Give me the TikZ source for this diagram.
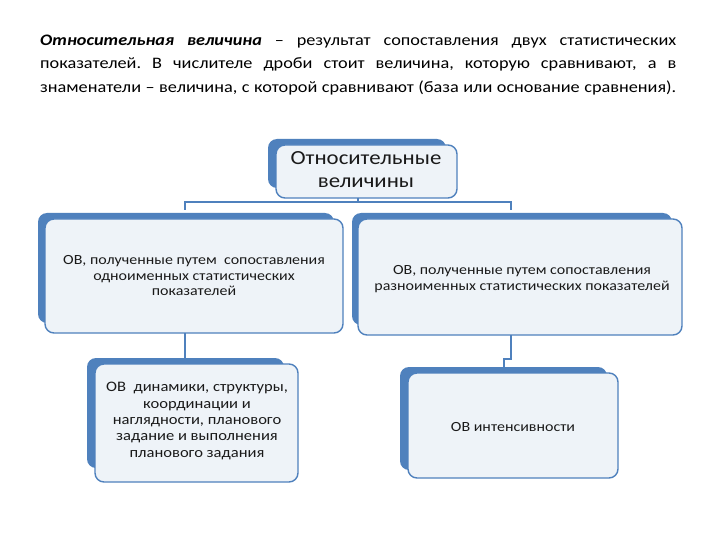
\documentclass[tikz,border=0pt]{standalone}
\usepackage{fontspec}
\setmainfont{Carlito}
\definecolor{obBlue}{HTML}{4F81BD}
\definecolor{obFill}{HTML}{EEF3F8}
\definecolor{obText}{HTML}{1A1A1A}
\tikzset{
  backbox/.style={fill=obBlue, rounded corners=9pt},
  frontbox/.style={draw=obBlue, line width=1.4pt, fill=obFill, rounded corners=9pt},
  conn/.style={draw=obBlue, line width=1.4pt},
  boxtext/.style={align=center, text=obText, inner sep=0pt, xscale=1.14, transform shape},
}
\begin{document}
\begin{tikzpicture}[x=1pt,y=-1pt]
\useasboundingbox (0,0) rectangle (720,540);
\fill[white] (0,0) rectangle (720,540);
% paragraph
\node[anchor=north west, inner sep=0pt] (para) at (40,35) {\scalebox{1.14}[1]{\parbox{557.9pt}{\fontsize{16}{23.3}\selectfont\frenchspacing\parfillskip=0pt\noindent
\textbf{\textit{Относительная величина}} – результат сопоставления двух статистических\linebreak
показателей. В числителе дроби стоит величина, которую сравнивают, а в\linebreak
знаменатели – величина, с которой сравнивают (база или основание сравнения).}}};

% top box
\fill[backbox] (268,139) rectangle (446,188);
\path[frontbox] (276,145) rectangle (457,198);
\node[boxtext, font=\fontsize{20}{23}\selectfont] (top) at (366,170) {Относительные\\величины};
\coordinate (topb) at (358,198);

% mid left
\fill[backbox] (38,213) rectangle (334,323);
\path[frontbox] (45,219) rectangle (343,333);
\node[boxtext, font=\fontsize{14}{15.5}\selectfont] (ml) at (194,276) {ОВ, полученные путем \ сопоставления\\одноименных статистических\\показателей};
\coordinate (mlt) at (185,210);
\coordinate (mlb) at (185,333);

% mid right
\fill[backbox] (352,213) rectangle (672,325);
\path[frontbox] (358,219) rectangle (682,335);
\node[boxtext, font=\fontsize{14}{15.5}\selectfont] (mr) at (522,279) {ОВ, полученные путем сопоставления\\разноименных статистических показателей};
\coordinate (mrt) at (511,210);
\coordinate (mrb) at (511,335);

% lower left
\fill[backbox] (87,358) rectangle (284,468);
\path[frontbox] (95,364) rectangle (298,482);
\node[boxtext, font=\fontsize{14.5}{16.3}\selectfont] (ll) at (197,421) {ОВ \ динамики, структуры,\\координации и\\наглядности, планового\\задание и выполнения\\планового задания};
\coordinate (llt) at (185,358);

% lower right
\fill[backbox] (400,367) rectangle (607,470);
\path[frontbox] (408,373) rectangle (618,478);
\node[boxtext, font=\fontsize{14}{16}\selectfont] (lr) at (513,427) {ОВ интенсивности};
\coordinate (lrt) at (504,367);

% connectors
\draw[conn] (topb) -- (358,202) -| (mlt);
\draw[conn] (358,202) -| (mrt);
\draw[conn] (mlb) -- (llt);
\draw[conn] (mrb) -- (511,359) -| (lrt);
\end{tikzpicture}
\end{document}
